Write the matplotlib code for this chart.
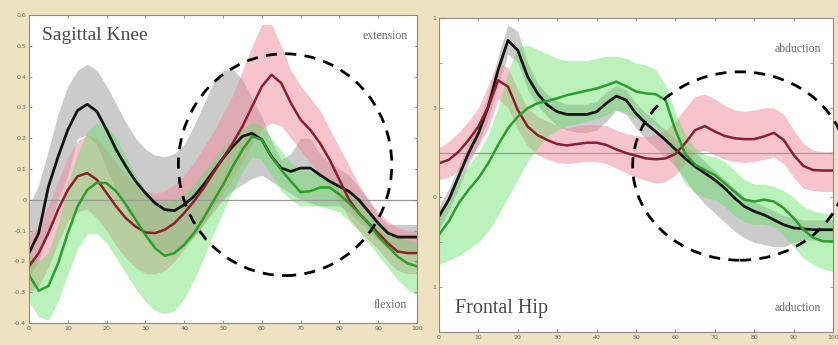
import numpy as np
import matplotlib
matplotlib.use("Agg")
import matplotlib.pyplot as plt
from matplotlib.patches import Ellipse

# gait cycle (%)
cycle = np.arange(0, 101, 2.5)

# ---------------- Sagittal Knee ----------------
knee_black = [-0.173, -0.108, 0.043, 0.14, 0.227, 0.29, 0.31, 0.287, 0.227, 0.162,
              0.108, 0.06, 0.022, -0.011, -0.032, -0.035, -0.016, 0.011, 0.049, 0.092,
              0.135, 0.173, 0.206, 0.216, 0.195, 0.14, 0.103, 0.092, 0.103, 0.103,
              0.081, 0.06, 0.043, 0.027, 0.0, -0.038, -0.076, -0.108, -0.121, -0.121, -0.121]
knee_black_hi = [-0.02, 0.05, 0.16, 0.28, 0.37, 0.42, 0.44, 0.42, 0.37, 0.31,
                 0.25, 0.2, 0.165, 0.145, 0.14, 0.15, 0.18, 0.24, 0.31, 0.38,
                 0.42, 0.425, 0.39, 0.33, 0.27, 0.19, 0.13, 0.15, 0.2, 0.2,
                 0.15, 0.12, 0.1, 0.08, 0.04, 0.0, -0.05, -0.08, -0.08, -0.08, -0.08]
knee_black_lo = [-0.25, -0.2, -0.1, 0.0, 0.08, 0.2, 0.21, 0.18, 0.1, 0.03,
                 -0.03, -0.08, -0.12, -0.15, -0.17, -0.17, -0.15, -0.12, -0.08, -0.04,
                 0.0, 0.03, 0.05, 0.07, 0.08, 0.06, 0.04, 0.02, 0.0, -0.01,
                 -0.02, -0.02, -0.02, -0.04, -0.07, -0.1, -0.13, -0.16, -0.17, -0.17, -0.17]

knee_red = [-0.216, -0.173, -0.108, -0.032, 0.032, 0.076, 0.087, 0.065, 0.022, -0.022,
            -0.06, -0.087, -0.106, -0.108, -0.097, -0.076, -0.043, -0.005, 0.038, 0.087,
            0.135, 0.184, 0.238, 0.303, 0.368, 0.406, 0.379, 0.314, 0.26, 0.227,
            0.184, 0.13, 0.065, 0.0, -0.043, -0.076, -0.108, -0.141, -0.168, -0.173, -0.173]
knee_red_hi = [-0.12, -0.08, -0.02, 0.06, 0.14, 0.19, 0.21, 0.2, 0.16, 0.12,
               0.08, 0.05, 0.03, 0.02, 0.03, 0.05, 0.08, 0.12, 0.17, 0.22,
               0.28, 0.34, 0.42, 0.5, 0.57, 0.57, 0.5, 0.42, 0.37, 0.33,
               0.29, 0.23, 0.17, 0.11, 0.05, 0.0, -0.04, -0.07, -0.09, -0.1, -0.1]
knee_red_lo = [-0.3, -0.28, -0.22, -0.14, -0.07, -0.04, -0.03, -0.06, -0.1, -0.15,
               -0.19, -0.22, -0.24, -0.24, -0.23, -0.2, -0.16, -0.12, -0.08, -0.03,
               0.02, 0.07, 0.12, 0.18, 0.23, 0.25, 0.24, 0.2, 0.16, 0.12,
               0.08, 0.04, -0.01, -0.06, -0.1, -0.13, -0.16, -0.2, -0.23, -0.24, -0.24]

knee_green = [-0.244, -0.295, -0.28, -0.206, -0.108, -0.022, 0.032, 0.056, 0.054, 0.027,
              -0.016, -0.065, -0.114, -0.157, -0.182, -0.173, -0.146, -0.108, -0.06, -0.005,
              0.049, 0.108, 0.162, 0.206, 0.195, 0.14, 0.097, 0.06, 0.025, 0.028,
              0.04, 0.04, 0.018, -0.011, -0.043, -0.076, -0.119, -0.151, -0.184, -0.206, -0.216]
knee_green_hi = [-0.18, -0.2, -0.17, -0.08, 0.05, 0.15, 0.22, 0.25, 0.24, 0.2,
                 0.14, 0.08, 0.03, 0.0, -0.01, 0.0, 0.02, 0.05, 0.09, 0.13,
                 0.17, 0.2, 0.23, 0.25, 0.24, 0.2, 0.16, 0.12, 0.1, 0.09,
                 0.08, 0.07, 0.05, 0.03, 0.0, -0.04, -0.07, -0.1, -0.12, -0.13, -0.14]
knee_green_lo = [-0.33, -0.38, -0.39, -0.33, -0.24, -0.16, -0.11, -0.11, -0.14, -0.19,
                 -0.24, -0.29, -0.33, -0.36, -0.37, -0.36, -0.32, -0.26, -0.19, -0.11,
                 -0.04, 0.03, 0.09, 0.14, 0.13, 0.08, 0.03, 0.0, -0.02, -0.02,
                 -0.02, -0.03, -0.04, -0.07, -0.1, -0.14, -0.18, -0.22, -0.26, -0.29, -0.31]

# ---------------- Frontal Hip ----------------
hip_black = [-1.42, -1.05, -0.53, -0.01, 0.43, 1.02, 1.84, 2.5, 2.28, 1.69,
             1.32, 1.06, 0.91, 0.85, 0.85, 0.85, 0.91, 1.1, 1.26, 1.17,
             0.87, 0.65, 0.47, 0.28, 0.07, -0.13, -0.31, -0.46, -0.61, -0.79,
             -1.01, -1.2, -1.31, -1.39, -1.5, -1.61, -1.68, -1.7, -1.72, -1.72, -1.72]
hip_black_hi = [-1.2, -0.8, -0.3, 0.2, 0.65, 1.3, 2.15, 2.85, 2.7, 2.0,
                1.55, 1.3, 1.15, 1.08, 1.08, 1.08, 1.15, 1.35, 1.5, 1.4,
                1.1, 0.88, 0.7, 0.5, 0.3, 0.15, 0.0, -0.2, -0.4, -0.6,
                -0.8, -1.0, -1.1, -1.2, -1.3, -1.4, -1.45, -1.5, -1.5, -1.5, -1.5]
hip_black_lo = [-1.7, -1.3, -0.8, -0.25, 0.2, 0.75, 1.5, 2.2, 2.0, 1.4,
                1.05, 0.8, 0.6, 0.5, 0.45, 0.45, 0.5, 0.7, 0.95, 0.85,
                0.55, 0.3, 0.1, -0.1, -0.3, -0.6, -0.9, -1.15, -1.35, -1.55,
                -1.75, -1.9, -2.0, -2.05, -2.1, -2.1, -2.0, -1.95, -1.95, -1.95, -1.95]

hip_red = [-0.24, -0.16, 0.02, 0.28, 0.58, 1.02, 1.61, 1.47, 0.95, 0.58,
           0.39, 0.28, 0.19, 0.16, 0.19, 0.22, 0.22, 0.17, 0.07, -0.01,
           -0.07, -0.13, -0.15, -0.13, -0.03, 0.21, 0.5, 0.59, 0.47, 0.37,
           0.32, 0.3, 0.3, 0.36, 0.44, 0.28, -0.05, -0.3, -0.39, -0.4, -0.4]
hip_red_hi = [0.1, 0.25, 0.45, 0.7, 1.0, 1.5, 2.0, 1.9, 1.4, 1.0,
              0.8, 0.7, 0.6, 0.55, 0.6, 0.62, 0.62, 0.6, 0.5, 0.42,
              0.38, 0.35, 0.4, 0.5, 0.7, 1.0, 1.25, 1.3, 1.2, 1.05,
              0.95, 0.92, 0.95, 1.0, 1.0, 0.85, 0.5, 0.2, 0.05, 0.02, 0.02]
hip_red_lo = [-0.6, -0.55, -0.4, -0.15, 0.15, 0.55, 1.2, 1.0, 0.5, 0.15,
              -0.05, -0.15, -0.22, -0.25, -0.22, -0.2, -0.2, -0.25, -0.35, -0.45,
              -0.55, -0.62, -0.68, -0.65, -0.5, -0.25, 0.0, 0.05, -0.05, -0.15,
              -0.2, -0.22, -0.2, -0.15, -0.1, -0.25, -0.55, -0.8, -0.85, -0.87, -0.87]

hip_green = [-1.83, -1.53, -1.13, -0.83, -0.57, -0.24, 0.17, 0.54, 0.8, 0.99,
             1.1, 1.15, 1.21, 1.28, 1.33, 1.38, 1.43, 1.5, 1.58, 1.48,
             1.36, 1.32, 1.3, 1.17, 0.5, -0.03, -0.27, -0.39, -0.5, -0.68,
             -0.87, -1.05, -1.09, -1.05, -1.09, -1.24, -1.46, -1.72, -1.9, -1.98, -1.98]
hip_green_hi = [-1.3, -1.0, -0.6, -0.3, 0.0, 0.4, 1.0, 1.8, 2.35, 2.4,
                2.3, 2.2, 2.1, 2.05, 2.05, 2.05, 2.1, 2.15, 2.15, 2.1,
                2.0, 1.95, 1.85, 1.5, 0.9, 0.4, 0.1, -0.05, -0.1, -0.2,
                -0.4, -0.6, -0.7, -0.7, -0.75, -0.85, -1.0, -1.2, -1.3, -1.35, -1.35]
hip_green_lo = [-2.5, -2.4, -2.3, -2.15, -2.0, -1.75, -1.4, -1.0, -0.6, -0.2,
                0.1, 0.35, 0.5, 0.6, 0.65, 0.7, 0.75, 0.85, 0.95, 0.9,
                0.75, 0.7, 0.6, 0.3, -0.3, -0.7, -0.9, -1.0, -1.05, -1.2,
                -1.4, -1.55, -1.6, -1.6, -1.65, -1.85, -2.1, -2.35, -2.5, -2.6, -2.65]

knee_yticks = [0.6, 0.5, 0.4, 0.3, 0.2, 0.1, 0, -0.1, -0.2, -0.3, -0.4]
knee_ylabels = ["0.6", "0.5", "0.4", "0.3", "0.2", "0.1", "0", "-0.1", "-0.2", "-0.3", "-0.4"]
hip_yticks = [-4, -3, -2, -1, 0, 1, 2, 3]
hip_ylabels = ["", "1", "", "0", "", "3", "", "1"]
xticks = [0, 10, 20, 30, 40, 50, 60, 70, 80, 90, 100]

BG = "#efe2c0"
GREY_BAND = "#a9a9a9"
PINK_BAND = "#f08a9c"
GREEN_BAND = "#5fe05f"
BLACK = "#141414"
RED = "#8c1f2f"
GREEN = "#2b9e2b"

fig = plt.figure(figsize=(8.38, 3.45), dpi=100, facecolor=BG)
ax1 = fig.add_axes([29 / 838, 22 / 345, 388 / 838, 308 / 345])
ax2 = fig.add_axes([439 / 838, 13 / 345, 394 / 838, 314 / 345])


def draw_panel(ax, series):
    for mean, lo, hi, band, line, a, lw in series:
        ax.fill_between(cycle, lo, hi, color=band, alpha=a, lw=0)
    for mean, lo, hi, band, line, a, lw in series:
        ax.plot(cycle, mean, color=line, lw=lw, solid_capstyle="round")
    ax.axhline(0, color="#9a9a9a", lw=0.9, zorder=1)
    ax.set_xlim(0, 100)
    ax.set_xticks(xticks)
    ax.set_xticklabels([str(t) for t in xticks])
    ax.tick_params(direction="in", length=2.5, width=0.6, colors="#8a8a8a",
                   labelcolor="#666666", labelsize=4.5, pad=2,
                   top=True, right=True)
    for s in ax.spines.values():
        s.set_color("#8a8a8a")
        s.set_linewidth(0.8)
    ax.set_facecolor("white")


draw_panel(ax1, [
    (knee_black, knee_black_lo, knee_black_hi, GREY_BAND, BLACK, 0.6, 2.0),
    (knee_red, knee_red_lo, knee_red_hi, PINK_BAND, RED, 0.5, 1.8),
    (knee_green, knee_green_lo, knee_green_hi, GREEN_BAND, GREEN, 0.42, 1.8),
])
ax1.set_ylim(-0.4, 0.6)
ax1.set_yticks(knee_yticks)
ax1.set_yticklabels(knee_ylabels)

draw_panel(ax2, [
    (hip_black, hip_black_lo, hip_black_hi, GREY_BAND, BLACK, 0.6, 2.0),
    (hip_red, hip_red_lo, hip_red_hi, PINK_BAND, RED, 0.5, 1.8),
    (hip_green, hip_green_lo, hip_green_hi, GREEN_BAND, GREEN, 0.42, 1.8),
])
ax2.set_ylim(-4, 3)
ax2.set_yticks(hip_yticks)
ax2.set_yticklabels(hip_ylabels)

serif = ["Liberation Serif", "DejaVu Serif"]
ax1.text(0.033, 0.96, "Sagittal Knee", transform=ax1.transAxes, family=serif,
         fontsize=14, color="#4a4a4a", va="top", ha="left")
ax1.text(0.975, 0.95, "extension", transform=ax1.transAxes, family=serif,
         fontsize=8.5, color="#6a6a6a", va="top", ha="right")
ax1.text(0.975, 0.04, "flexion", transform=ax1.transAxes, family=serif,
         fontsize=8.5, color="#6a6a6a", va="bottom", ha="right")
ax2.text(0.04, 0.045, "Frontal Hip", transform=ax2.transAxes, family=serif,
         fontsize=14.5, color="#4a4a4a", va="bottom", ha="left")
ax2.text(0.97, 0.9, "abduction", transform=ax2.transAxes, family=serif,
         fontsize=8.5, color="#6a6a6a", va="center", ha="right")
ax2.text(0.97, 0.075, "adduction", transform=ax2.transAxes, family=serif,
         fontsize=8.5, color="#6a6a6a", va="center", ha="right")

# dashed highlight circles
ax1.add_patch(Ellipse((66, 0.114), 55, 0.72, fill=False, ls=(0, (4, 3)),
                      lw=2.0, ec="black", zorder=5, clip_on=False))
ax2.add_patch(Ellipse((76.4, -0.3), 54.5, 4.2, fill=False, ls=(0, (4, 3)),
                      lw=2.0, ec="black", zorder=5, clip_on=False))

fig.savefig("out.png", dpi=100, facecolor=BG)
